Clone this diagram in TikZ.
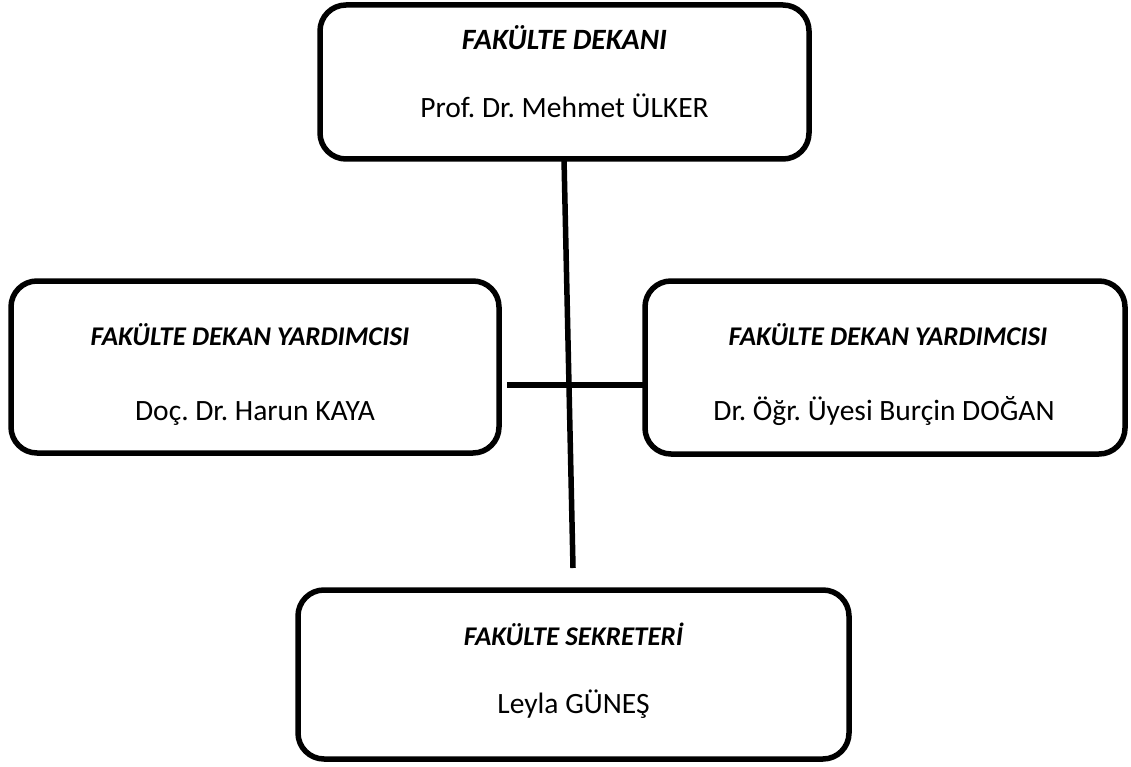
\documentclass[tikz,border=0pt]{standalone}
\usepackage{fontspec}
\setmainfont{Carlito}
\frenchspacing
\begin{document}
\begin{tikzpicture}[x=1pt,y=-1pt,
  orgbox/.style={draw=black,line width=5.5pt,rounded corners=26pt,inner sep=0pt,outer sep=0pt,fill=white},
  ttl/.style={anchor=base,font=\fontsize{27}{32}\selectfont\bfseries\itshape,inner sep=0pt},
  bigttl/.style={ttl,font=\fontsize{29.5}{34}\selectfont\bfseries\itshape},
  nm/.style={anchor=base,font=\fontsize{29.5}{34}\selectfont,inner sep=0pt},
  conn/.style={line width=5.5pt,draw=black}]
\useasboundingbox (0,0) rectangle (1131,767);
% boxes
\node[orgbox,minimum width=489pt,minimum height=154pt] (dekan) at (564.5,82) {};
\node[orgbox,minimum width=488pt,minimum height=172pt] (yrd1) at (255,367) {};
\node[orgbox,minimum width=480pt,minimum height=173pt] (yrd2) at (885,367.5) {};
\node[orgbox,minimum width=551pt,minimum height=169pt] (sekr) at (573.5,674.5) {};
% texts
\node[bigttl] (dekanT) at (564.5,50) {FAKÜLTE DEKANI};
\node[nm] (dekanN) at (564.5,118) {Prof. Dr. Mehmet ÜLKER};
\node[ttl] (yrd1T) at (250,345) {FAKÜLTE DEKAN YARDIMCISI};
\node[nm] (yrd1N) at (255,420) {Doç. Dr. Harun KAYA};
\node[ttl] (yrd2T) at (888,345) {FAKÜLTE DEKAN YARDIMCISI};
\node[nm] (yrd2N) at (884,420) {Dr. Öğr. Üyesi Burçin DOĞAN};
\node[ttl] (sekrT) at (573.5,645) {FAKÜLTE SEKRETERİ};
\node[nm] (sekrN) at (573.5,713) {Leyla GÜNEŞ};
% connectors
\coordinate (vtop) at ([xshift=-0.5pt]dekan.south);
\coordinate (vend) at (573,568);
\coordinate (hstart) at (507,385);
\draw[conn] (vtop) -- (vend);
\draw[conn] (hstart) -- (yrd2.west |- hstart);
\end{tikzpicture}
\end{document}
